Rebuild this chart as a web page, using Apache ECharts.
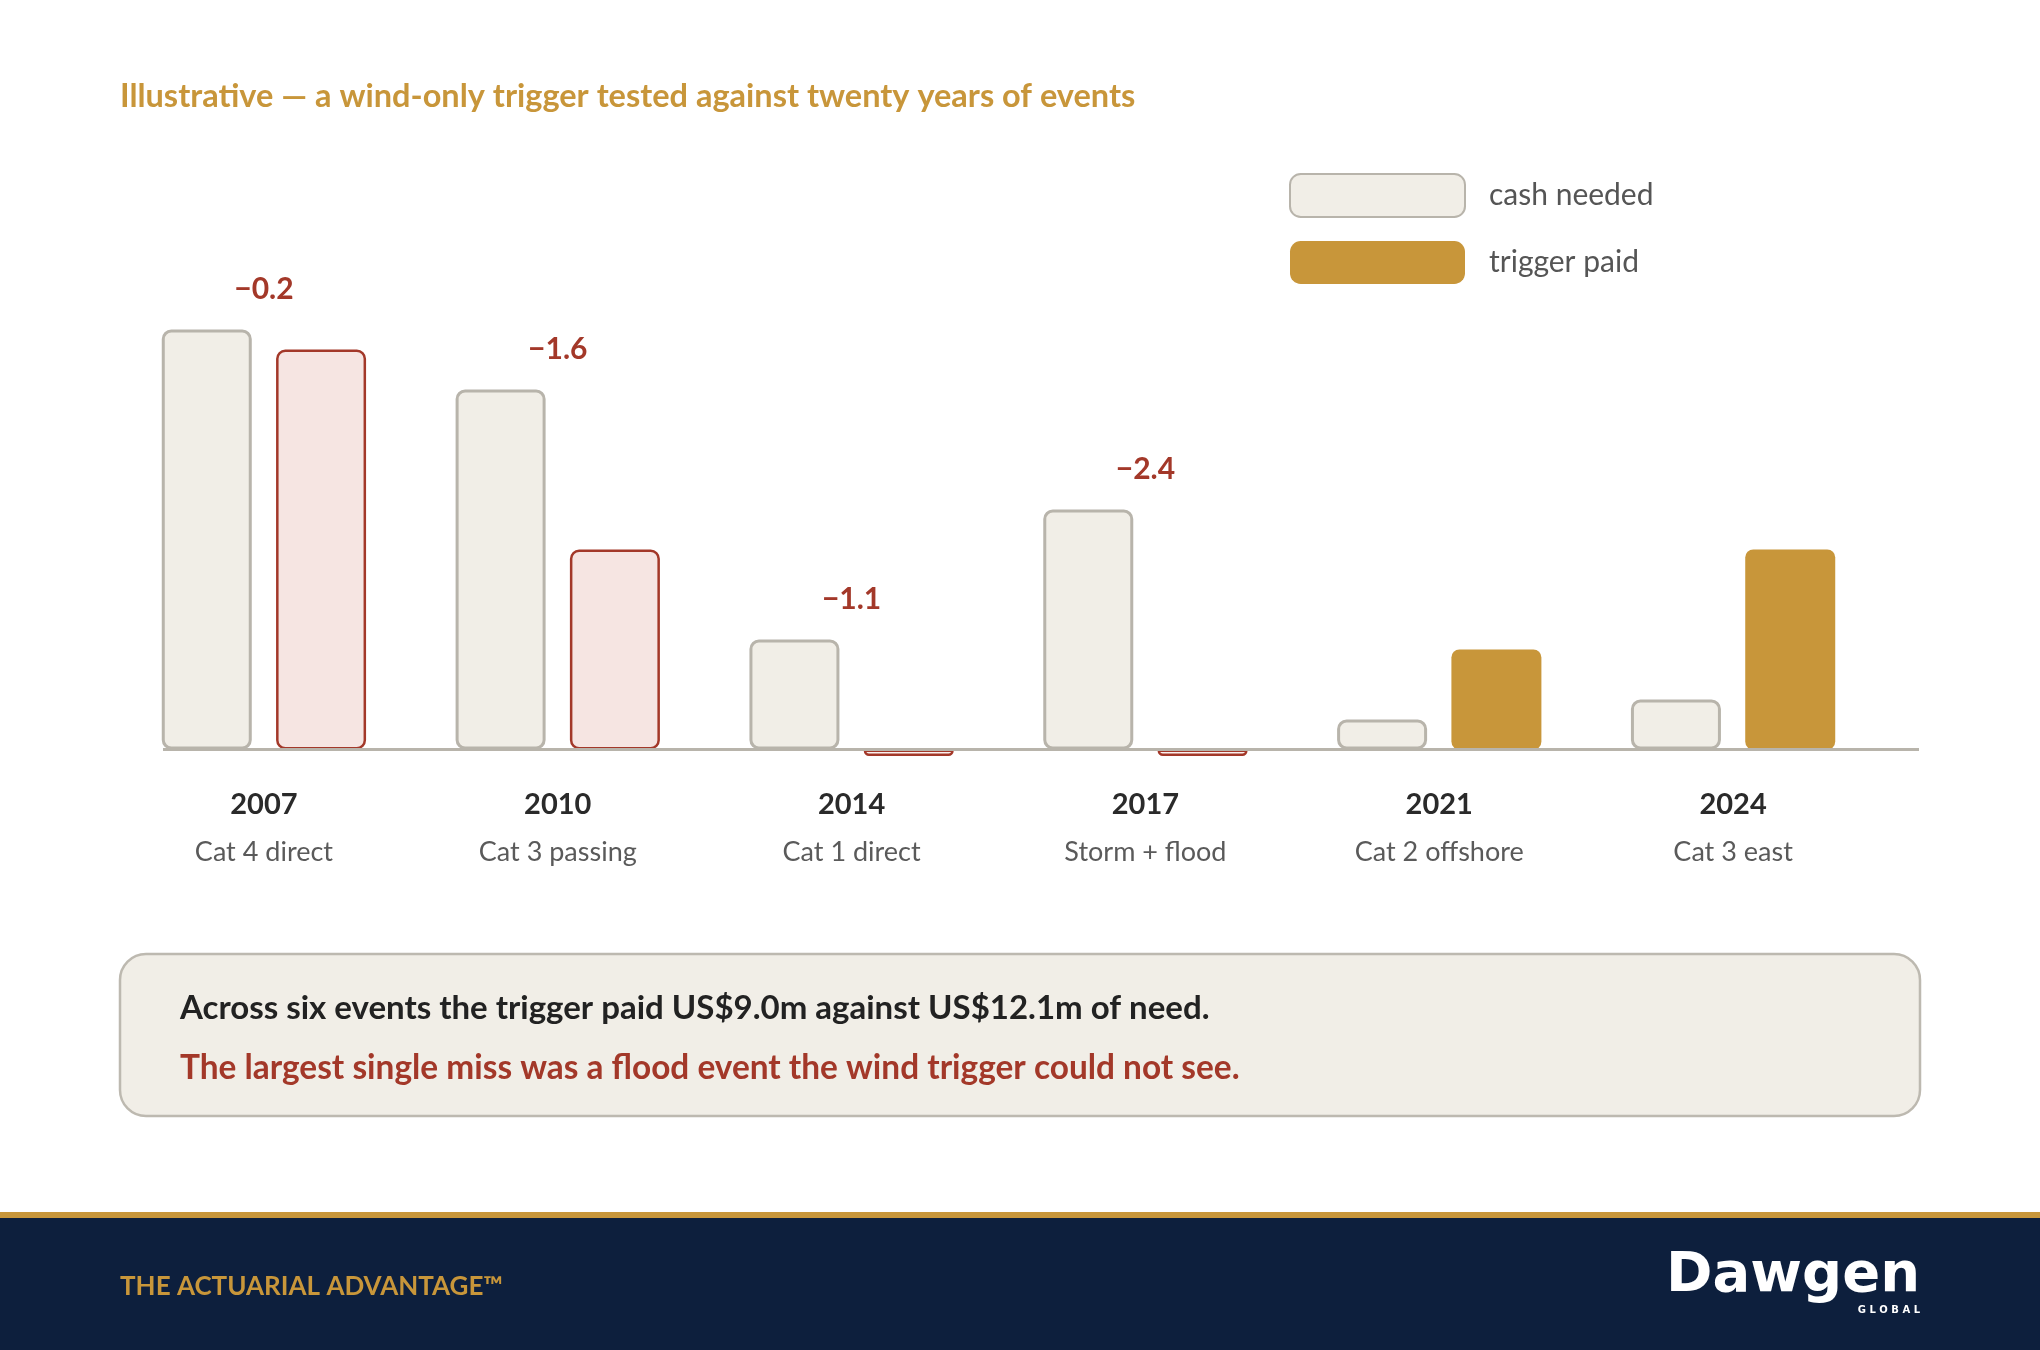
<!DOCTYPE html>
<html><head><meta charset="utf-8">
<script src="https://cdn.jsdelivr.net/npm/echarts@6/dist/echarts.min.js"></script>
<style>html,body{margin:0;padding:0;background:#fff}#c{width:2040px;height:1350px}</style>
</head><body><div id="c"></div>
<script>
// ---- data ----
const years = ['2007', '2010', '2014', '2017', '2021', '2024'];
const events = ['Cat 4 direct', 'Cat 3 passing', 'Cat 1 direct', 'Storm + flood', 'Cat 2 offshore', 'Cat 3 east'];
const cashNeeded = [4.2, 3.6, 1.1, 2.4, 0.3, 0.5];
const triggerPaid = [4.0, 2.0, 0, 0, 1.0, 2.0];
const seriesNames = ['cash needed', 'trigger paid'];
const titleText = 'Illustrative \u2014 a wind-only trigger tested against twenty years of events';
const missNote = 'The largest single miss was a flood event the wind trigger could not see.';
const footerText = 'THE ACTUARIAL ADVANTAGE\u2122';

// ---- styles ----
const GOLD = '#C8963A', RED = '#A33829', PINK = '#F6E5E2', BEIGE = '#F1EEE7', GREY = '#B8B4AB', NAVY = '#0D1F3D';
const FONT = 'Lato';
const STUB = 0.065; // depth of the zero-payout marker below the baseline

const totalPaid = triggerPaid.reduce((a, b) => a + b, 0);
const totalNeed = cashNeeded.reduce((a, b) => a + b, 0);

const chart = echarts.init(document.getElementById('c'), null, { renderer: 'canvas' });

const triggerData = triggerPaid.map((v, i) => v < cashNeeded[i]
  ? { value: v, itemStyle: { color: PINK, borderColor: RED, borderWidth: 2.5 } }
  : v);
const stubData = triggerPaid.map(v => v === 0 ? -STUB : '-');
const gapData = cashNeeded.map((c, i) => triggerPaid[i] < c ? [i, Math.max(c, triggerPaid[i])] : null).filter(d => d);

chart.setOption({
  backgroundColor: '#ffffff',
  animation: false,
  title: {
    text: titleText, left: 120, top: 80.5, padding: 0,
    textStyle: { fontFamily: FONT, fontWeight: 'bold', fontSize: 32.5, color: GOLD }
  },
  legend: {
    data: seriesNames, orient: 'vertical', left: 1289, top: 173, padding: 0,
    itemWidth: 175, itemHeight: 43, itemGap: 23, icon: 'roundRect', selectedMode: false,
    textStyle: { fontFamily: FONT, fontSize: 30, color: '#555555', padding: [0, 0, 0, 19] }
  },
  grid: { left: 117, right: 160, top: 249.5, bottom: 550.5 },
  xAxis: {
    type: 'category', data: years,
    axisLine: { show: false }, axisTick: { show: false },
    axisLabel: {
      margin: -19, interval: 0,
      formatter: (v, i) => '{y|' + v + '}\n{s|' + events[i] + '}',
      rich: {
        y: { fontFamily: FONT, fontWeight: 'bold', fontSize: 29, color: '#2A2A2A', lineHeight: 48 },
        s: { fontFamily: FONT, fontSize: 27, color: '#5A5A5A', lineHeight: 48 }
      }
    }
  },
  yAxis: { type: 'value', min: -0.5, max: 5, show: false },
  series: [
    {
      name: seriesNames[0], type: 'bar', data: cashNeeded, barWidth: 90, barGap: '27%',
      itemStyle: { color: BEIGE, borderColor: GREY, borderWidth: 3, borderRadius: 8 }
    },
    {
      name: seriesNames[1], type: 'bar', stack: 'tp', data: triggerData, barWidth: 90, barGap: '27%',
      itemStyle: { color: GOLD, borderRadius: 8 }
    },
    {
      name: 'zero', type: 'bar', stack: 'tp', data: stubData, barWidth: 90, silent: true,
      itemStyle: { color: '#FBF0EE', borderColor: RED, borderWidth: 2.5, borderRadius: [0, 0, 5, 5] }
    },
    {
      name: 'gap', type: 'scatter', data: gapData, symbolSize: 1, silent: true,
      itemStyle: { color: 'rgba(0,0,0,0)', opacity: 1 },
      label: {
        show: true, position: 'inside', offset: [0, -40],
        formatter: p => '\u2212' + (cashNeeded[p.value[0]] - triggerPaid[p.value[0]]).toFixed(1),
        fontFamily: FONT, fontWeight: 'bold', fontSize: 30, color: RED, textBorderWidth: 0
      }
    }
  ]
});

const y0 = chart.convertToPixel({ yAxisIndex: 0 }, 0);
chart.setOption({
  graphic: [
    { type: 'line', z: 50, shape: { x1: 163, y1: y0, x2: 1919, y2: y0 }, style: { stroke: GREY, lineWidth: 3 } },
    { type: 'rect', z: 1, shape: { x: 120, y: 954, width: 1800, height: 162, r: 26 }, style: { fill: BEIGE, stroke: '#BDB9B0', lineWidth: 2.5 } },
    { type: 'text', z: 2, x: 180, y: 1008, style: { text: 'Across six events the trigger paid US$' + totalPaid.toFixed(1) + 'm against US$' + totalNeed.toFixed(1) + 'm of need.', fontFamily: FONT, fontWeight: 'bold', fontSize: 33, fill: '#222222', verticalAlign: 'middle' } },
    { type: 'text', z: 2, x: 180, y: 1068, style: { text: missNote, fontFamily: FONT, fontWeight: 'bold', fontSize: 33.4, fill: RED, verticalAlign: 'middle' } },
    { type: 'rect', z: 1, shape: { x: 0, y: 1212, width: 2040, height: 6 }, style: { fill: GOLD } },
    { type: 'rect', z: 1, shape: { x: 0, y: 1218, width: 2040, height: 132 }, style: { fill: NAVY } },
    { type: 'text', z: 2, x: 120, y: 1287, style: { text: footerText, fontFamily: FONT, fontWeight: 'bold', fontSize: 26, fill: GOLD, verticalAlign: 'middle' } },
    { type: 'text', z: 2, x: 1920, y: 1276, style: { text: 'Dawgen', fontFamily: 'DejaVu Sans', fontWeight: 'bold', fontSize: 56, fill: '#FFFFFF', align: 'right', verticalAlign: 'middle' } },
    { type: 'text', z: 2, x: 1920, y: 1310, style: { text: 'G L O B A L', fontFamily: 'DejaVu Sans', fontWeight: 'bold', fontSize: 10, fill: '#FFFFFF', align: 'right', verticalAlign: 'middle' } }
  ]
});
</script>
</body></html>
